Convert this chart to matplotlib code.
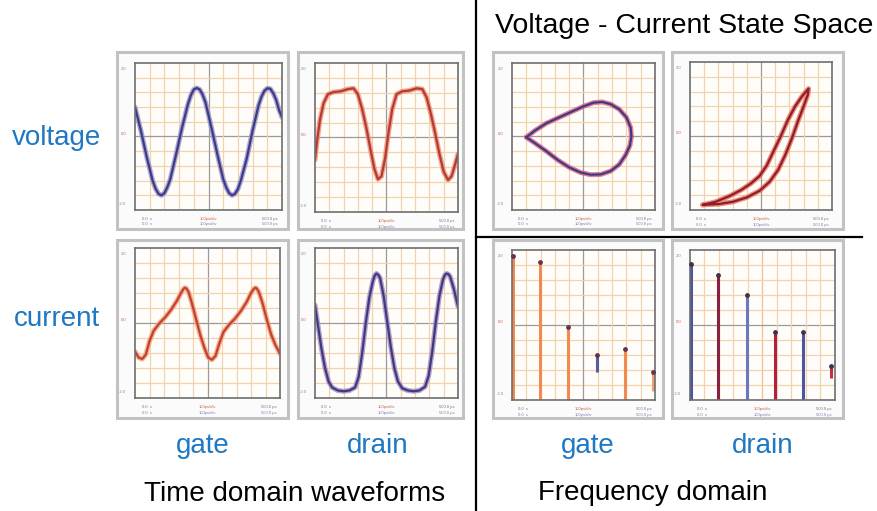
import matplotlib.pyplot as plt
from matplotlib.patches import Rectangle

plt.rcParams['font.family'] = ['Liberation Sans', 'DejaVu Sans']

W, H = 878, 511

# all curves are in screen divisions (10 x 10 grid)
gate_v_x = [0, 0.4, 0.8, 1.2, 1.4, 1.6, 1.8, 2.0, 2.2, 2.4, 2.8, 3.2, 3.6, 3.8, 4.0, 4.2,
            4.4, 4.6, 4.8, 5.2, 5.6, 6.0, 6.2, 6.4, 6.6, 6.8, 7.0, 7.2, 7.6, 8.0, 8.4,
            8.6, 8.8, 9.0, 9.2, 9.4, 9.6, 9.8, 10]
gate_v_y = [7.0, 5.4, 3.6, 2.0, 1.45, 1.1, 1.0, 1.15, 1.55, 2.1, 3.8, 5.6, 7.2, 7.8, 8.2, 8.3,
            8.2, 7.85, 7.3, 5.6, 3.8, 2.1, 1.55, 1.15, 1.0, 1.1, 1.42, 2.0, 3.5, 5.4, 7.1,
            7.7, 8.1, 8.28, 8.25, 7.95, 7.5, 6.8, 6.3]

drain_v_x = [0, 0.15, 0.35, 0.6, 0.9, 1.3, 1.8, 2.3, 2.7, 3.0, 3.3, 3.6, 3.9, 4.15, 4.4,
             4.65, 4.9, 5.15, 5.4, 5.7, 6.1, 6.6, 7.1, 7.5, 7.8, 8.1, 8.4, 8.7, 9.0,
             9.3, 9.55, 9.8, 10]
drain_v_y = [3.5, 4.8, 6.2, 7.3, 7.9, 8.05, 8.1, 8.25, 8.3, 7.9, 6.9, 5.6, 4.1, 2.9, 2.2,
             2.4, 3.6, 5.4, 6.9, 7.9, 8.1, 8.15, 8.3, 8.25, 7.7, 6.6, 5.3, 3.9, 2.7,
             2.15, 2.4, 3.2, 3.9]

gate_i_x = [0, 0.25, 0.5, 0.75, 1.0, 1.3, 1.7, 2.1, 2.5, 2.9, 3.2, 3.35, 3.45, 3.55, 3.7,
            3.9, 4.2, 4.5, 4.8, 5.05, 5.3, 5.55, 5.8, 6.1, 6.5, 6.9, 7.3, 7.7, 8.0,
            8.2, 8.3, 8.4, 8.55, 8.8, 9.1, 9.4, 9.7, 10]
gate_i_y = [3.1, 2.7, 2.6, 2.9, 3.8, 4.5, 5.0, 5.4, 5.9, 6.5, 7.05, 7.28, 7.35, 7.3, 7.05,
            6.4, 5.3, 4.2, 3.3, 2.7, 2.55, 2.8, 3.6, 4.4, 4.9, 5.3, 5.8, 6.4, 7.0,
            7.28, 7.35, 7.3, 7.05, 6.3, 5.2, 4.2, 3.5, 2.95]

drain_i_x = [0, 0.2, 0.45, 0.7, 0.95, 1.2, 1.6, 2.0, 2.4, 2.8, 3.05, 3.3, 3.55, 3.8, 4.05,
             4.17, 4.3, 4.43, 4.55, 4.8, 5.05, 5.3, 5.55, 5.8, 6.1, 6.5, 6.9, 7.3, 7.7,
             7.95, 8.2, 8.45, 8.7, 8.95, 9.08, 9.2, 9.33, 9.45, 9.7, 10]
drain_i_y = [6.2, 4.9, 3.3, 2.0, 1.1, 0.7, 0.5, 0.45, 0.5, 0.7, 1.4, 3.0, 5.0, 6.7, 7.8,
             8.15, 8.3, 8.2, 8.0, 6.8, 5.1, 3.4, 2.0, 1.1, 0.65, 0.5, 0.45, 0.5, 0.75,
             1.5, 3.1, 5.1, 6.8, 7.9, 8.2, 8.3, 8.25, 8.1, 7.3, 6.1]

gate_vi_x = [1.0, 1.6, 2.4, 3.3, 4.2, 5.0, 5.7, 6.3, 6.9, 7.5, 8.0, 8.3, 8.35, 8.25, 7.95,
             7.5, 6.9, 6.2, 5.5, 4.8, 4.0, 3.2, 2.4, 1.6, 1.0]
gate_vi_y = [4.95, 5.4, 5.9, 6.3, 6.7, 7.05, 7.3, 7.35, 7.2, 6.85, 6.3, 5.6, 5.0, 4.4, 3.75,
             3.1, 2.65, 2.42, 2.4, 2.55, 2.9, 3.4, 4.0, 4.55, 4.95]

drain_vi_x = [0.9, 1.8, 2.8, 3.6, 4.3, 4.9, 5.4, 5.9, 6.4, 6.9, 7.4, 7.9, 8.35, 8.3, 8.0,
              7.6, 7.2, 6.7, 6.2, 5.6, 4.9, 4.0, 3.0, 2.0, 0.9]
drain_vi_y = [0.35, 0.55, 0.95, 1.35, 1.8, 2.3, 3.0, 4.0, 5.0, 6.1, 7.0, 7.7, 8.2, 7.8, 7.0,
              6.0, 4.9, 3.7, 2.7, 1.9, 1.3, 0.85, 0.55, 0.4, 0.35]

gate_f_x = [0.05, 1.97, 3.95, 5.92, 7.9, 9.87]
gate_f_lo = [0, 0, 0, 1.9, 0, 0.6]
gate_f_hi = [9.6, 9.2, 4.9, 3.0, 3.4, 1.9]
gate_f_col = ['#f08a50', '#f08a50', '#f08a50', '#5a5aa0', '#f08a50', '#f0a070']

drain_f_x = [0.05, 1.95, 3.9, 5.85, 7.8, 9.75]
drain_f_lo = [0, 0, 0, 0, 0, 1.5]
drain_f_hi = [9.1, 8.33, 7.0, 4.55, 4.55, 2.3]
drain_f_col = ['#4a55a8', '#8a2040', '#6a78c0', '#b02040', '#4a55a8', '#c03040']

row_labels = ['voltage', 'current']
col_labels = ['gate', 'drain', 'gate', 'drain']
scale_labels = ['2.0', '0.0', '-2.0']
foot_labels = ['0.0  s', '100ps/div', '500.0 ps']

blue = '#1f78c1'

fig = plt.figure(figsize=(8.78, 5.11), dpi=100)


def px_axes(x0, y0, x1, y1):
    return fig.add_axes([x0 / W, 1 - y1 / H, (x1 - x0) / W, (y1 - y0) / H])


def frame(x0, y0, x1, y1):
    fig.patches.append(Rectangle((x0 / W, 1 - y1 / H), (x1 - x0) / W, (y1 - y0) / H,
                                 transform=fig.transFigure, facecolor='#fbfbfb',
                                 edgecolor='#c2c2c2', lw=2.2, zorder=-1))


def scope(ax, center='#9a9a9a'):
    ax.set_xlim(0, 10)
    ax.set_ylim(0, 10)
    ax.set_facecolor('#fffdf9')
    for v in range(1, 10):
        c = center if v == 5 else '#f0d4b0'
        ax.axvline(v, color=c, lw=0.9, zorder=0)
        c = '#9a9a9a' if v == 5 else '#f0d4b0'
        ax.axhline(v, color=c, lw=0.9, zorder=0)
    ax.set_xticks([])
    ax.set_yticks([])
    for s in ax.spines.values():
        s.set_color('#6e6e6e')
        s.set_linewidth(1.2)
    # tiny instrument read-outs
    cols = ['#888888', '#d06040', '#888888']
    for lab, yy, c in zip(scale_labels, [0.96, 0.52, 0.04], cols):
        ax.text(-0.06, yy, lab, transform=ax.transAxes, fontsize=3, color=c,
                ha='right', va='center')
    for lab, xx, c in zip(foot_labels, [0.08, 0.5, 0.92], ['#777777', '#d06040', '#777777']):
        ax.text(xx, -0.045, lab, transform=ax.transAxes, fontsize=3, color=c,
                ha='center', va='top')
        ax.text(xx, -0.085, lab, transform=ax.transAxes, fontsize=3, color='#8080b0',
                ha='center', va='top')


def trace(ax, x, y, halo, core):
    ax.plot(x, y, color=halo, lw=3.6, solid_capstyle='round', solid_joinstyle='round', alpha=0.8)
    ax.plot(x, y, color=core, lw=1.6, solid_capstyle='round', solid_joinstyle='round')


# outer frames
for fx0, fx1 in [(117, 288), (298, 463), (493, 663), (672, 843)]:
    frame(fx0, 52, fx1, 229)
    frame(fx0, 240, fx1, 418)

ax1 = px_axes(135, 63, 282, 210)
scope(ax1)
trace(ax1, gate_v_x, gate_v_y, '#9a92cc', '#3a3c86')

ax2 = px_axes(315, 63, 458, 212)
scope(ax2)
trace(ax2, drain_v_x, drain_v_y, '#f09070', '#b33a38')

ax3 = px_axes(135, 248, 280, 398)
scope(ax3)
trace(ax3, gate_i_x, gate_i_y, '#f5a070', '#c0403a')

ax4 = px_axes(315, 248, 458, 398)
scope(ax4)
trace(ax4, drain_i_x, drain_i_y, '#a78ac0', '#3c3a80')

ax5 = px_axes(512, 63, 655, 210)
scope(ax5)
trace(ax5, gate_vi_x, gate_vi_y, '#d86080', '#3f3a80')

ax6 = px_axes(690, 62, 832, 210)
scope(ax6)
trace(ax6, drain_vi_x, drain_vi_y, '#e87050', '#8e1c32')

ax7 = px_axes(512, 250, 655, 400)
scope(ax7)
ax7.vlines(gate_f_x, gate_f_lo, gate_f_hi, colors=gate_f_col, lw=2.2)
ax7.scatter(gate_f_x, gate_f_hi, s=6, color='#6a3050', zorder=3, clip_on=False)

ax8 = px_axes(690, 250, 835, 400)
scope(ax8, center='#f0c090')
ax8.vlines(drain_f_x, drain_f_lo, drain_f_hi, colors=drain_f_col, lw=2.2)
ax8.scatter(drain_f_x, drain_f_hi, s=6, color='#40304a', zorder=3, clip_on=False)

# dividers
fig.add_artist(plt.Line2D([476 / W, 476 / W], [0, 1], color='black', lw=1.6))
fig.add_artist(plt.Line2D([476 / W, 862 / W], [1 - 237 / H, 1 - 237 / H], color='black', lw=1.6))

# labels
fig.text(57 / W, 1 - 138 / H, row_labels[0], color=blue, fontsize=20, ha='center', va='center')
fig.text(57 / W, 1 - 319 / H, row_labels[1], color=blue, fontsize=20, ha='center', va='center')
for cx, lab in zip([203, 378, 588, 763], col_labels):
    fig.text(cx / W, 1 - 446 / H, lab, color=blue, fontsize=20, ha='center', va='center')
fig.text(295 / W, 1 - 494 / H, 'Time domain waveforms', fontsize=20, ha='center', va='center')
fig.text(653 / W, 1 - 493 / H, 'Frequency domain', fontsize=20, ha='center', va='center')
fig.text(684 / W, 1 - 26 / H, 'Voltage - Current State Space', fontsize=20.5, ha='center', va='center')

fig.savefig('out.png', dpi=100)
